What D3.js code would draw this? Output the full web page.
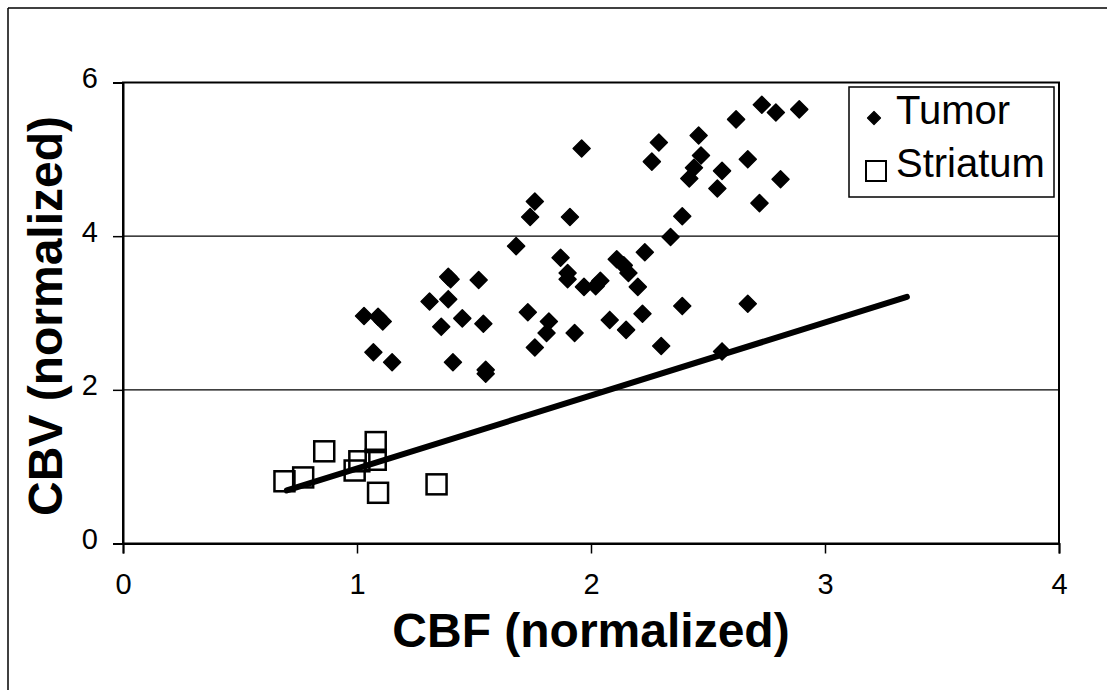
<!DOCTYPE html>
<html>
<head>
<meta charset="utf-8">
<script src="https://cdn.jsdelivr.net/npm/d3@7"></script>
<style>
  html, body { margin: 0; padding: 0; background: #fff; }
  svg { display: block; font-family: "Liberation Sans", Arial, sans-serif; }
</style>
</head>
<body>
<svg id="chart" width="1107" height="690"></svg>
<script>
// Tumor measurements (CBF, CBV), normalized
const tumorCBF = [1.96, 1.76, 1.74, 1.91, 1.68, 1.87, 1.90, 1.90, 1.97, 2.02, 2.04, 2.11, 2.14, 2.16,
  1.40, 1.39, 1.52, 1.31, 1.39, 1.03, 1.09, 1.11, 1.36, 1.45, 1.54, 1.73, 1.82, 1.81, 1.93, 1.76,
  2.08, 2.15, 1.07, 1.15, 1.41, 1.55, 1.55,
  2.73, 2.79, 2.89, 2.62, 2.29, 2.46, 2.26, 2.47, 2.44, 2.42, 2.56, 2.67, 2.54, 2.81, 2.72, 2.39,
  2.34, 2.23, 2.20, 2.39, 2.67, 2.22, 2.30, 2.56];
const tumorCBV = [5.14, 4.45, 4.25, 4.25, 3.87, 3.72, 3.52, 3.44, 3.34, 3.35, 3.42, 3.70, 3.62, 3.52,
  3.44, 3.47, 3.43, 3.15, 3.18, 2.96, 2.95, 2.89, 2.82, 2.93, 2.86, 3.01, 2.89, 2.74, 2.74, 2.55,
  2.91, 2.78, 2.49, 2.36, 2.36, 2.26, 2.21,
  5.71, 5.61, 5.65, 5.52, 5.22, 5.31, 4.97, 5.05, 4.89, 4.75, 4.85, 5.00, 4.62, 4.74, 4.43, 4.26,
  3.99, 3.79, 3.34, 3.09, 3.12, 2.99, 2.57, 2.50];

// Striatum measurements (CBF, CBV), normalized
const striatumCBF = [0.69, 0.77, 0.86, 1.08, 1.01, 1.08, 0.99, 1.09, 1.34];
const striatumCBV = [0.81, 0.86, 1.20, 1.32, 1.07, 1.09, 0.95, 0.66, 0.77];

// Fitted line endpoints
const fitCBF = [0.70, 3.35];
const fitCBV = [0.69, 3.21];

const xTicks = [0, 1, 2, 3, 4];
const yTicks = [0, 2, 4, 6];
const gridValues = [2, 4];
const seriesNames = ["Tumor", "Striatum"];

const svg = d3.select("#chart");
const plotLeft = 123, plotRight = 1059, plotTop = 82.5, plotBottom = 543.5;

const x = d3.scaleLinear().domain([0, 4]).range([plotLeft, plotRight]);
const y = d3.scaleLinear().domain([0, 6]).range([plotBottom, plotTop]);

// outer frame (top and left edges)
svg.append("line").attr("x1", 8).attr("x2", 1107).attr("y1", 8).attr("y2", 8)
  .attr("stroke", "#000").attr("stroke-width", 1.5);
svg.append("line").attr("x1", 8).attr("x2", 8).attr("y1", 8).attr("y2", 690)
  .attr("stroke", "#000").attr("stroke-width", 1.5);

// horizontal gridlines
svg.append("g").selectAll("line").data(gridValues).join("line")
  .attr("x1", plotLeft).attr("x2", plotRight)
  .attr("y1", d => y(d)).attr("y2", d => y(d))
  .attr("stroke", "#000").attr("stroke-width", 1.2);

// plot border
svg.append("rect").attr("x", plotLeft).attr("y", plotTop)
  .attr("width", plotRight - plotLeft).attr("height", plotBottom - plotTop)
  .attr("fill", "none").attr("stroke", "#000").attr("stroke-width", 2);

// axes
const xAxis = svg.append("g").attr("transform", `translate(0,${plotBottom})`)
  .call(d3.axisBottom(x).tickValues(xTicks).tickFormat(d3.format("d")).tickSize(10));
const yAxis = svg.append("g").attr("transform", `translate(${plotLeft},0)`)
  .call(d3.axisLeft(y).tickValues(yTicks).tickFormat(d3.format("d")).tickSize(10));

[xAxis, yAxis].forEach(a => {
  a.select(".domain").attr("stroke", "#000").attr("stroke-width", 2);
  a.selectAll(".tick line").attr("stroke", "#000").attr("stroke-width", 1.5);
  a.selectAll(".tick text").attr("fill", "#000")
    .style("font-size", "29px").style("font-family", '"Liberation Sans", Arial, sans-serif');
});
yAxis.selectAll(".tick text").attr("x", -25).attr("dy", null).attr("y", 5);
xAxis.selectAll(".tick text").attr("dy", null).attr("y", 50);

// fitted line
svg.append("path")
  .datum(d3.zip(fitCBF, fitCBV))
  .attr("d", d3.line().x(d => x(d[0])).y(d => y(d[1])))
  .attr("fill", "none").attr("stroke", "#000").attr("stroke-width", 6)
  .attr("stroke-linecap", "round");

// tumor diamonds
const diamond = r => `M0,${-r}L${r},0L0,${r}L${-r},0Z`;
svg.append("g").selectAll("path").data(d3.zip(tumorCBF, tumorCBV)).join("path")
  .attr("transform", d => `translate(${x(d[0])},${y(d[1])})`)
  .attr("d", diamond(8.5))
  .attr("fill", "#000").attr("stroke", "#000").attr("stroke-width", 1.5)
  .attr("stroke-linejoin", "round");

// striatum squares
const sq = 20;
svg.append("g").selectAll("rect").data(d3.zip(striatumCBF, striatumCBV)).join("rect")
  .attr("x", d => x(d[0]) - sq / 2).attr("y", d => y(d[1]) - sq / 2)
  .attr("width", sq).attr("height", sq)
  .attr("fill", "none").attr("stroke", "#000").attr("stroke-width", 2.5);

// axis titles
svg.append("text").attr("x", 591).attr("y", 647).attr("text-anchor", "middle")
  .style("font-size", "48px").style("font-weight", "bold").text("CBF (normalized)");
svg.append("text").attr("transform", "translate(62,316) rotate(-90)").attr("text-anchor", "middle")
  .style("font-size", "48px").style("font-weight", "bold").text("CBV (normalized)");

// legend
const lg = svg.append("g");
lg.append("rect").attr("x", 849).attr("y", 87).attr("width", 205).attr("height", 110)
  .attr("fill", "#fff").attr("stroke", "#000").attr("stroke-width", 1.5);
lg.append("path").attr("transform", "translate(874,118)").attr("d", diamond(6.5))
  .attr("fill", "#000").attr("stroke", "#000").attr("stroke-width", 1.2).attr("stroke-linejoin", "round");
lg.append("rect").attr("x", 866).attr("y", 161).attr("width", 20).attr("height", 20)
  .attr("fill", "none").attr("stroke", "#000").attr("stroke-width", 2);
lg.selectAll("text").data(seriesNames).join("text")
  .attr("x", 896).attr("y", (d, i) => 124 + i * 53)
  .style("font-size", "40px").text(d => d);
</script>
</body>
</html>
